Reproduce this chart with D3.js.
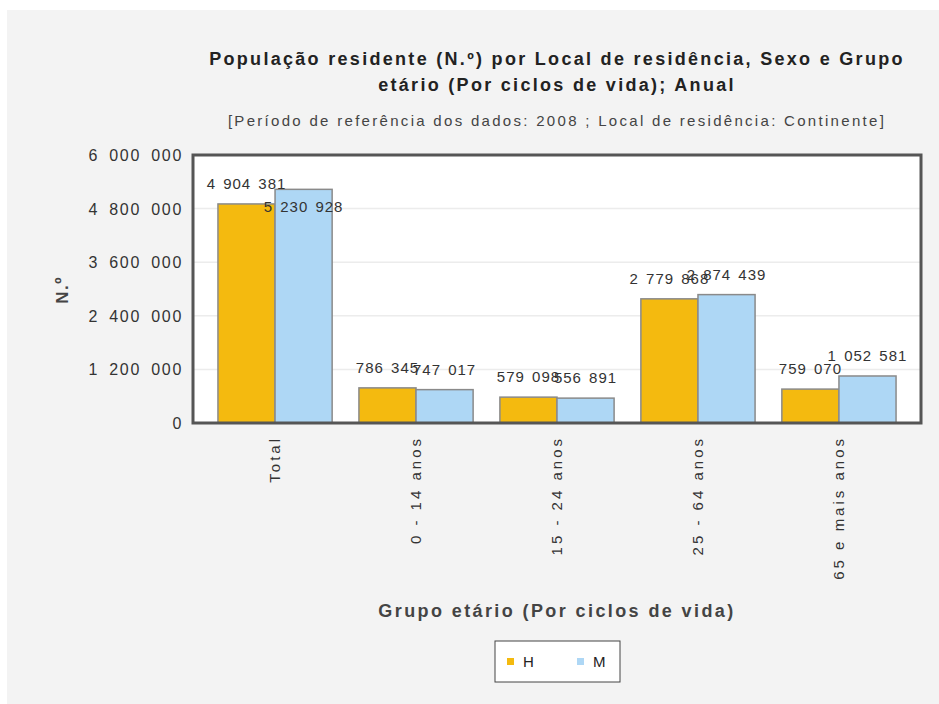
<!DOCTYPE html>
<html>
<head>
<meta charset="utf-8">
<script src="https://cdn.jsdelivr.net/npm/d3@7"></script>
<style>
  body { margin: 0; background: #fff; }
  svg { display: block; font-family: "Liberation Sans", Arial, sans-serif; }
</style>
</head>
<body>
<svg id="chart"></svg>
<script>
var width = 939, height = 704;

// data
var categories = ["Total", "0 - 14 anos", "15 - 24 anos", "25 - 64 anos", "65 e mais anos"];
var seriesNames = ["H", "M"];
var valuesH = [4904381, 786345, 579098, 2779868, 759070];
var valuesM = [5230928, 747017, 556891, 2874439, 1052581];
var yTicks = [0, 1200000, 2400000, 3600000, 4800000, 6000000];
var colors = ["#f4ba0f", "#aed7f5"];

var locale = d3.formatLocale({decimal: ",", thousands: " ", grouping: [3], currency: ["", "€"]});
var fmt = locale.format(",d");

var plot = {left: 193, right: 921, top: 155, bottom: 423};

var svg = d3.select("#chart")
    .attr("width", width)
    .attr("height", height);

svg.append("rect")
    .attr("x", 7).attr("y", 10)
    .attr("width", width - 7).attr("height", height - 10)
    .attr("fill", "#f3f3f3");

var x = d3.scaleBand()
    .domain(categories)
    .range([plot.left, plot.right])
    .paddingInner(0.19)
    .paddingOuter(0.177);

var xs = d3.scaleBand()
    .domain(seriesNames)
    .range([0, x.bandwidth()]);

var y = d3.scaleLinear()
    .domain([0, 6000000])
    .range([plot.bottom, plot.top]);

// plot background
svg.append("rect")
    .attr("x", plot.left).attr("y", plot.top)
    .attr("width", plot.right - plot.left).attr("height", plot.bottom - plot.top)
    .attr("fill", "#fff");

// grid
svg.append("g")
    .selectAll("line")
    .data(yTicks.slice(1, -1))
    .enter()
    .append("line")
    .attr("x1", plot.left).attr("x2", plot.right)
    .attr("y1", d => y(d)).attr("y2", d => y(d))
    .attr("stroke", "#ececec")
    .attr("stroke-width", 1.5);

var table = categories.map((c, i) => ({cat: c, vals: [
    {s: "H", v: valuesH[i], c: colors[0]},
    {s: "M", v: valuesM[i], c: colors[1]}
]}));

var groups = svg.append("g")
    .selectAll("g")
    .data(table)
    .enter()
    .append("g")
    .attr("transform", d => `translate(${x(d.cat)},0)`);

groups.selectAll("rect")
    .data(d => d.vals)
    .enter()
    .append("rect")
    .attr("x", d => xs(d.s))
    .attr("y", d => y(d.v))
    .attr("width", xs.bandwidth())
    .attr("height", d => y(0) - y(d.v))
    .attr("fill", d => d.c)
    .attr("stroke", "#8a8a8a")
    .attr("stroke-width", 1.5);

// value labels (near the top of the axis they go inside the bar)
groups.selectAll("text")
    .data(d => d.vals)
    .enter()
    .append("text")
    .attr("x", d => xs(d.s) + xs.bandwidth() / 2)
    .attr("y", d => d.v / 6000000 > 0.85 ? y(d.v) + 23 : y(d.v) - 15)
    .attr("text-anchor", "middle")
    .attr("font-size", 15)
    .attr("letter-spacing", 1)
    .attr("word-spacing", 2)
    .attr("fill", "#333")
    .text(d => fmt(d.v));

// frame
svg.append("rect")
    .attr("x", plot.left).attr("y", plot.top)
    .attr("width", plot.right - plot.left).attr("height", plot.bottom - plot.top)
    .attr("fill", "none")
    .attr("stroke", "#555")
    .attr("stroke-width", 3);

// y tick labels
svg.append("g")
    .selectAll("text")
    .data(yTicks)
    .enter()
    .append("text")
    .attr("x", plot.left - 10)
    .attr("y", d => y(d) + 6)
    .attr("text-anchor", "end")
    .attr("font-size", 16)
    .attr("letter-spacing", 1.7)
    .attr("word-spacing", 4)
    .attr("fill", "#333")
    .text(d => fmt(d));

// x tick labels
svg.append("g")
    .selectAll("text")
    .data(categories)
    .enter()
    .append("text")
    .attr("transform", d => `translate(${x(d) + x.bandwidth() / 2 + 5},${plot.bottom + 13}) rotate(-90)`)
    .attr("text-anchor", "end")
    .attr("font-size", 15)
    .attr("letter-spacing", 3)
    .attr("fill", "#333")
    .text(d => d);

// titles
var cx = (plot.left + plot.right) / 2;
svg.append("text")
    .attr("x", cx).attr("y", 65)
    .attr("text-anchor", "middle")
    .attr("font-size", 18).attr("font-weight", "bold").attr("fill", "#222")
    .attr("letter-spacing", 2.3)
    .text("População residente (N.º) por Local de residência, Sexo e Grupo");
svg.append("text")
    .attr("x", cx).attr("y", 91)
    .attr("text-anchor", "middle")
    .attr("font-size", 18).attr("font-weight", "bold").attr("fill", "#222")
    .attr("letter-spacing", 2.3)
    .text("etário (Por ciclos de vida); Anual");
svg.append("text")
    .attr("x", cx).attr("y", 126)
    .attr("text-anchor", "middle")
    .attr("font-size", 15).attr("fill", "#444")
    .attr("letter-spacing", 2.3)
    .text("[Período de referência dos dados: 2008 ; Local de residência: Continente]");

svg.append("text")
    .attr("transform", `translate(68,290) rotate(-90)`)
    .attr("text-anchor", "middle")
    .attr("font-size", 17).attr("font-weight", "bold").attr("fill", "#444")
    .attr("letter-spacing", 1.5)
    .text("N.º");

svg.append("text")
    .attr("x", cx).attr("y", 617)
    .attr("text-anchor", "middle")
    .attr("font-size", 18).attr("font-weight", "bold").attr("fill", "#444")
    .attr("letter-spacing", 2.4)
    .text("Grupo etário (Por ciclos de vida)");

// legend
var legend = svg.append("g").attr("transform", "translate(495,641)");
legend.append("rect")
    .attr("width", 125).attr("height", 41)
    .attr("fill", "#fff").attr("stroke", "#444");
var items = legend.selectAll("g")
    .data(seriesNames)
    .enter()
    .append("g")
    .attr("transform", (d, i) => `translate(${12 + i * 70},0)`);
items.append("rect")
    .attr("y", 17).attr("width", 7).attr("height", 7)
    .attr("fill", (d, i) => colors[i]);
items.append("text")
    .attr("x", 16).attr("y", 26)
    .attr("font-size", 15).attr("fill", "#222")
    .text(d => d);
</script>
</body>
</html>
